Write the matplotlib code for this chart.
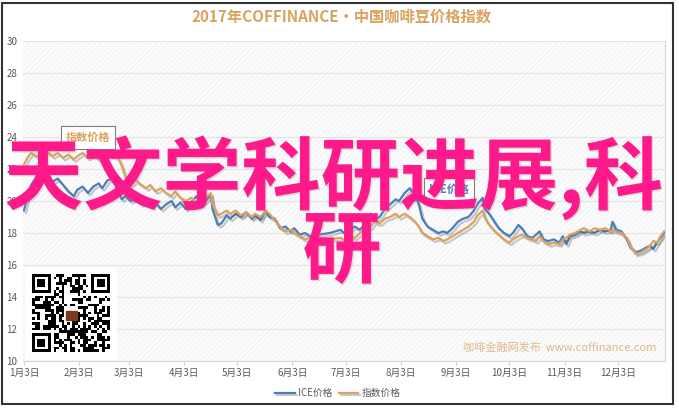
import numpy as np
import pandas as pd
import matplotlib
matplotlib.use("Agg")
import matplotlib.pyplot as plt
import matplotlib.patheffects as pe
from matplotlib.patches import Rectangle

plt.rcParams['font.family'] = ['Noto Sans CJK SC', 'DejaVu Sans']
plt.rcParams['hatch.linewidth'] = 0.4

# day of year (2017) for each sample
day_of_year = [3, 5, 7, 10, 13, 16, 19, 22, 25, 28, 31, 33, 36, 39, 42, 45, 47, 50, 53, 55,
               58, 60, 63, 66, 69, 72, 74, 77, 80, 83, 86, 88, 91, 94, 97, 100, 102, 105, 108, 109,
               112, 114, 117, 119, 122, 125, 128, 131, 133, 136, 139, 141, 144, 147, 150, 153, 155, 158, 161, 164,
               169, 175, 181, 184, 186, 189, 192, 195, 198, 200, 203, 206, 209, 212, 214, 217, 220, 223, 225, 227,
               230, 233, 236, 239, 241, 244, 247, 250, 253, 256, 258, 261, 262, 264, 267, 270, 273, 276, 278, 281,
               283, 286, 289, 291, 293, 295, 298, 301, 304, 306, 308, 310, 313, 316, 318, 321, 324, 327, 330, 333,
               334, 336, 339, 342, 344, 347, 350, 353, 355, 357, 359, 361, 363]

ice_price = [19.4, 20.3, 21.0, 21.5, 21.3, 21.6, 21.2, 21.4, 21.0, 20.6, 20.3, 20.7, 20.9, 20.5, 20.9, 21.1, 20.8, 21.3, 21.4, 20.8,
             20.1, 20.3, 20.0, 20.2, 19.8, 20.0, 19.7, 19.9, 19.5, 19.8, 20.0, 19.6, 19.9, 19.5, 19.9, 20.3, 19.9, 20.0, 20.4, 19.5,
             18.5, 18.6, 19.1, 18.9, 19.2, 19.0, 19.3, 18.9, 19.1, 18.8, 19.4, 19.0, 18.9, 18.3, 18.4, 18.1, 18.3, 17.9, 18.0, 17.8,
             17.9, 18.0, 18.2, 17.9, 18.2, 18.4, 18.2, 18.6, 19.2, 18.8, 19.0, 19.5, 19.8, 20.1, 20.0, 20.5, 20.8, 20.3, 19.8, 18.9,
             18.4, 18.2, 18.0, 18.1, 18.0, 18.3, 18.7, 18.9, 19.0, 19.4, 19.8, 20.2, 19.5, 19.3, 18.8, 18.3, 18.0, 17.8, 18.0, 18.5,
             18.3, 17.8, 17.7, 17.9, 18.1, 17.6, 17.5, 17.6, 17.4, 17.8, 17.3, 17.8, 17.9, 18.1, 18.0, 18.1, 18.0, 18.2, 18.1, 18.2,
             18.7, 18.2, 18.1, 17.6, 17.1, 16.8, 16.9, 17.1, 17.2, 17.0, 17.4, 17.7, 18.0]

index_price = [22.3, 22.7, 23.0, 22.8, 22.9, 23.1, 22.8, 23.0, 22.7, 22.9, 22.6, 22.8, 23.0, 22.7, 22.9, 22.6, 22.8, 23.0, 22.8, 22.9,
               22.2, 21.5, 21.0, 21.3, 21.0, 20.8, 21.0, 20.6, 20.8, 20.5, 20.3, 20.6, 20.2, 20.0, 20.2, 19.9, 20.1, 20.2, 20.5, 19.8,
               19.1, 19.2, 19.4, 19.2, 19.4, 19.1, 19.3, 19.0, 19.2, 19.0, 19.4, 19.2, 18.8, 18.4, 18.1, 18.2, 18.0, 17.8, 17.6, 17.7,
               17.7, 17.6, 17.7, 17.5, 17.8, 17.7, 18.0, 18.2, 18.4, 18.7, 18.6, 18.9, 19.0, 19.2, 19.0, 19.2, 19.0, 18.7, 18.4, 18.0,
               17.8, 17.6, 17.7, 17.5, 17.6, 17.8, 18.0, 18.2, 18.4, 18.7, 19.1, 19.4, 19.0, 18.6, 18.2, 17.9, 17.6, 17.4, 17.6, 17.8,
               17.9, 17.7, 17.6, 17.5, 17.8, 17.5, 17.3, 17.4, 17.3, 17.6, 17.7, 17.9, 18.0, 18.2, 18.3, 18.1, 18.3, 18.2, 18.3, 18.1,
               18.2, 18.1, 18.0, 17.7, 17.2, 16.7, 16.8, 17.0, 17.2, 17.5, 17.4, 17.8, 18.1]

tick_months = list(range(1, 13))
tick_labels = [f'{m}月3日' for m in tick_months]

base = pd.Timestamp('2017-01-01')
dates = base + pd.to_timedelta(np.array(day_of_year) - 1, unit='D')

blue = '#4a7ebb'
tan = '#d9a25f'

fig = plt.figure(figsize=(6.79, 4.09), dpi=100)
W, H = 679, 409
ax = fig.add_axes([23 / W, 1 - 361 / H, (665 - 23) / W, (361 - 41) / H])

# hatched plot background
ax.set_facecolor('#fbfbfb')
ax.add_patch(Rectangle((0, 0), 1, 1, transform=ax.transAxes, facecolor='none',
                       edgecolor='#ececec', hatch='//////', lw=0, zorder=0))

shadow = [pe.SimpleLineShadow(offset=(1.5, -1.8), shadow_color='#555555', alpha=0.3), pe.Normal()]
ax.plot(dates, ice_price, color=blue, lw=1.6, label='ICE价格', path_effects=shadow, zorder=3)
ax.plot(dates, index_price, color=tan, lw=1.6, label='指数价格', path_effects=shadow, zorder=3)

ax.set_ylim(10, 30)
ax.set_yticks(np.arange(10, 31, 2))
ax.set_xlim(base + pd.Timedelta(days=1.44), base + pd.Timedelta(days=362.5))
ax.set_xticks([pd.Timestamp(2017, m, 3) for m in tick_months])
ax.set_xticklabels(tick_labels)
ax.grid(axis='y', color='#e3e3e3', lw=0.8)
ax.set_axisbelow(True)
for s in ['top', 'left']:
    ax.spines[s].set_visible(False)
ax.spines['right'].set_color('#d8d8d8')
ax.spines['bottom'].set_color('#d8d8d8')
ax.tick_params(axis='y', length=0, pad=4, labelsize=7, labelcolor='#595959')
ax.tick_params(axis='x', length=3, color='#d0d0d0', pad=2, labelsize=7, labelcolor='#595959')

# series labels
ax.text(pd.Timestamp('2017-02-08'), 24.0, '指数价格', color=tan, fontsize=8, fontweight='bold',
        ha='center', va='center', zorder=4,
        bbox=dict(boxstyle='square,pad=0.45', facecolor='white', edgecolor='#7f7f7f', lw=0.8))
ax.text(pd.Timestamp('2017-08-30'), 20.7, 'ICE价格', color=blue, fontsize=8, fontweight='bold',
        ha='center', va='center', zorder=4,
        bbox=dict(boxstyle='square,pad=0.45', facecolor='white', edgecolor='#7f7f7f', lw=0.8))

# watermark
ax.text(0.986, 0.027, '咖啡金融网发布  www.coffinance.com', transform=ax.transAxes, ha='right',
        va='bottom', fontsize=8, color='#e0b888', zorder=4)

fig.text(341 / W, 1 - 17 / H, '2017年COFFINANCE•中国咖啡豆价格指数', ha='center', va='center',
         fontsize=11, fontweight='bold', color=tan)

fig.legend(loc='center', bbox_to_anchor=(338 / W, 1 - 393 / H), ncol=2, frameon=False,
           fontsize=7, handlelength=2.0, columnspacing=0.6, handletextpad=0.4, labelcolor='#595959')

# QR code panel (decorative)
qr_ax = fig.add_axes([25 / W, 1 - 360 / H, 92 / W, 93 / H])
n = 29
i, j = np.mgrid[0:n, 0:n]
bits = ((np.sin(i * 12.9898 + j * 78.233) * 43758.5453) % 1.0 > 0.5).astype(float)
for (r0, c0) in [(0, 0), (0, n - 7), (n - 7, 0)]:
    bits[r0:r0 + 8, c0 - (1 if c0 else 0):c0 + 8] = 0
    bits[r0:r0 + 7, c0:c0 + 7] = 1
    bits[r0 + 1:r0 + 6, c0 + 1:c0 + 6] = 0
    bits[r0 + 2:r0 + 5, c0 + 2:c0 + 5] = 1
bits[(n - 7):, 7] = 0
bits[7, :8] = 0
bits[7, n - 8:] = 0
bits[n - 8, :8] = 0
bits[12:17, 12:17] = 0
qr_ax.add_patch(Rectangle((0, 0), 1, 1, color='white', zorder=0))
qr_ax.imshow(1 - bits, cmap='gray', vmin=0, vmax=1, extent=(0.08, 0.92, 0.08, 0.92),
             interpolation='nearest', zorder=1)
qr_ax.add_patch(Rectangle((0.45, 0.43), 0.12, 0.1, color='#7a3b1a', zorder=2))
qr_ax.set_xlim(0, 1)
qr_ax.set_ylim(0, 1)
qr_ax.axis('off')

# overlay text
big = dict(color='#ff1a8c', fontsize=57, fontweight='bold', va='center', zorder=10,
           path_effects=[pe.withSimplePatchShadow(offset=(1, -1), shadow_rgbFace='#999999', alpha=0.3)])
fig.text(4 / W, 1 - 178 / H, '天文学科研进展,科', ha='left', **big)
fig.text(342 / W, 1 - 253 / H, '研', ha='center', **big)

# outer frame
fig.patches.append(Rectangle((2 / W, 1 - 404 / H), 671 / W, 401 / H, transform=fig.transFigure,
                             fill=False, edgecolor='#333333', lw=1.5))

fig.savefig('out.png', dpi=100)
